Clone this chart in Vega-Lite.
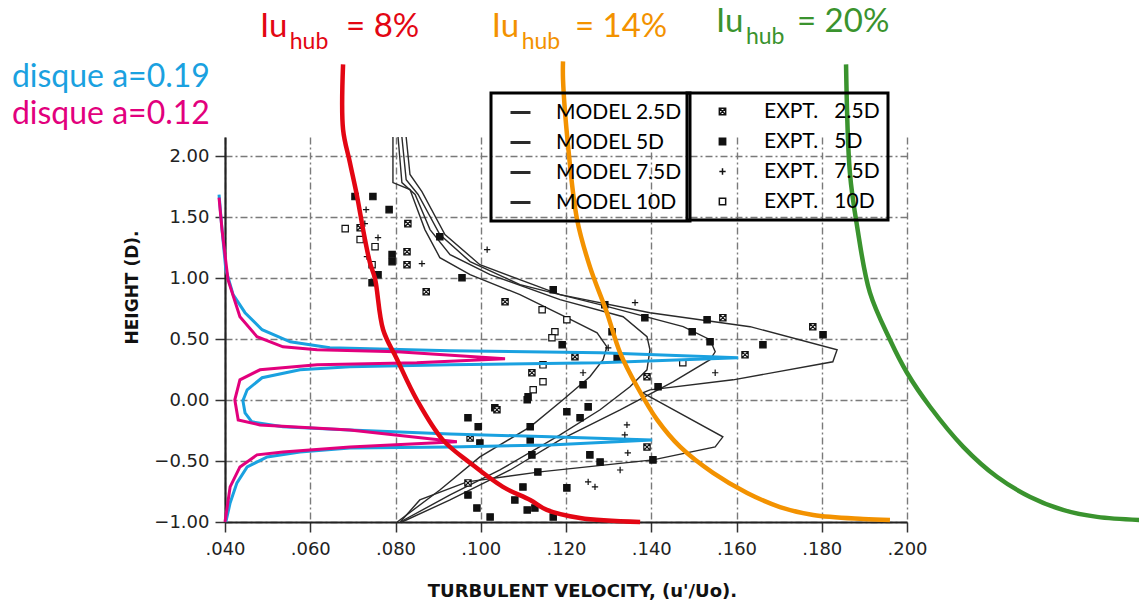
{
  "$schema": "https://vega.github.io/schema/vega-lite/v6.json",
  "autosize": {"type": "none"},
  "width": 682,
  "height": 385,
  "padding": {"left": 225, "top": 137, "right": 232, "bottom": 84},
  "background": "white",
  "config": {
    "view": {"stroke": null},
    "legend": {"strokeWidth": 3},
    "axis": {
      "grid": true,
      "gridColor": "#7a7a7a",
      "gridDash": [7, 3, 2, 3],
      "gridWidth": 1.4,
      "domainColor": "#222",
      "domainWidth": 2.2,
      "tickColor": "#333",
      "tickWidth": 1.5,
      "tickSize": 10,
      "labelFont": "DejaVu Sans",
      "labelFontSize": 18,
      "labelColor": "#222",
      "labelFlush": false,
      "titleFont": "DejaVu Sans",
      "titleFontWeight": "bold",
      "titleFontSize": 17,
      "titleColor": "#111"
    }
  },
  "datasets": {
    "models": [
      {"m": "MODEL 10D", "i": 0, "u": 0.0794, "h": 2.16},
      {"m": "MODEL 10D", "i": 1, "u": 0.0794, "h": 1.786},
      {"m": "MODEL 10D", "i": 2, "u": 0.0834, "h": 1.729},
      {"m": "MODEL 10D", "i": 3, "u": 0.0869, "h": 1.4},
      {"m": "MODEL 10D", "i": 4, "u": 0.0904, "h": 1.17},
      {"m": "MODEL 10D", "i": 5, "u": 0.0975, "h": 1.03},
      {"m": "MODEL 10D", "i": 6, "u": 0.1092, "h": 0.866},
      {"m": "MODEL 10D", "i": 7, "u": 0.1202, "h": 0.677},
      {"m": "MODEL 10D", "i": 8, "u": 0.1273, "h": 0.553},
      {"m": "MODEL 10D", "i": 9, "u": 0.1296, "h": 0.438},
      {"m": "MODEL 10D", "i": 10, "u": 0.1287, "h": 0.332},
      {"m": "MODEL 10D", "i": 11, "u": 0.1256, "h": 0.192},
      {"m": "MODEL 10D", "i": 12, "u": 0.1193, "h": 0.003},
      {"m": "MODEL 10D", "i": 13, "u": 0.1116, "h": -0.219},
      {"m": "MODEL 10D", "i": 14, "u": 0.0998, "h": -0.466},
      {"m": "MODEL 10D", "i": 15, "u": 0.0904, "h": -0.737},
      {"m": "MODEL 10D", "i": 16, "u": 0.0804, "h": -1.0},
      {"m": "MODEL 7.5D", "i": 0, "u": 0.0806, "h": 2.16},
      {"m": "MODEL 7.5D", "i": 1, "u": 0.0815, "h": 1.786},
      {"m": "MODEL 7.5D", "i": 2, "u": 0.0846, "h": 1.688},
      {"m": "MODEL 7.5D", "i": 3, "u": 0.0881, "h": 1.4},
      {"m": "MODEL 7.5D", "i": 4, "u": 0.0928, "h": 1.195},
      {"m": "MODEL 7.5D", "i": 5, "u": 0.1022, "h": 1.03},
      {"m": "MODEL 7.5D", "i": 6, "u": 0.1186, "h": 0.825},
      {"m": "MODEL 7.5D", "i": 7, "u": 0.1334, "h": 0.685},
      {"m": "MODEL 7.5D", "i": 8, "u": 0.139, "h": 0.521},
      {"m": "MODEL 7.5D", "i": 9, "u": 0.1397, "h": 0.414},
      {"m": "MODEL 7.5D", "i": 10, "u": 0.139, "h": 0.249},
      {"m": "MODEL 7.5D", "i": 11, "u": 0.135, "h": 0.11},
      {"m": "MODEL 7.5D", "i": 12, "u": 0.128, "h": -0.079},
      {"m": "MODEL 7.5D", "i": 13, "u": 0.1186, "h": -0.285},
      {"m": "MODEL 7.5D", "i": 14, "u": 0.1045, "h": -0.573},
      {"m": "MODEL 7.5D", "i": 15, "u": 0.0928, "h": -0.778},
      {"m": "MODEL 7.5D", "i": 16, "u": 0.0811, "h": -1.0},
      {"m": "MODEL 5D", "i": 0, "u": 0.0815, "h": 2.16},
      {"m": "MODEL 5D", "i": 1, "u": 0.0825, "h": 1.81},
      {"m": "MODEL 5D", "i": 2, "u": 0.0853, "h": 1.688},
      {"m": "MODEL 5D", "i": 3, "u": 0.0904, "h": 1.359},
      {"m": "MODEL 5D", "i": 4, "u": 0.0975, "h": 1.137},
      {"m": "MODEL 5D", "i": 5, "u": 0.1092, "h": 0.948},
      {"m": "MODEL 5D", "i": 6, "u": 0.128, "h": 0.784},
      {"m": "MODEL 5D", "i": 7, "u": 0.1475, "h": 0.603},
      {"m": "MODEL 5D", "i": 8, "u": 0.1538, "h": 0.496},
      {"m": "MODEL 5D", "i": 9, "u": 0.155, "h": 0.397},
      {"m": "MODEL 5D", "i": 10, "u": 0.1538, "h": 0.332},
      {"m": "MODEL 5D", "i": 11, "u": 0.1451, "h": 0.151},
      {"m": "MODEL 5D", "i": 12, "u": 0.1327, "h": -0.079},
      {"m": "MODEL 5D", "i": 13, "u": 0.1186, "h": -0.326},
      {"m": "MODEL 5D", "i": 14, "u": 0.1069, "h": -0.573},
      {"m": "MODEL 5D", "i": 15, "u": 0.0928, "h": -0.819},
      {"m": "MODEL 5D", "i": 16, "u": 0.0815, "h": -1.0},
      {"m": "MODEL 2.5D", "i": 0, "u": 0.0825, "h": 2.16},
      {"m": "MODEL 2.5D", "i": 1, "u": 0.0834, "h": 1.852},
      {"m": "MODEL 2.5D", "i": 2, "u": 0.0862, "h": 1.712},
      {"m": "MODEL 2.5D", "i": 3, "u": 0.0916, "h": 1.359},
      {"m": "MODEL 2.5D", "i": 4, "u": 0.0998, "h": 1.112},
      {"m": "MODEL 2.5D", "i": 5, "u": 0.1186, "h": 0.866},
      {"m": "MODEL 2.5D", "i": 6, "u": 0.1397, "h": 0.718},
      {"m": "MODEL 2.5D", "i": 7, "u": 0.1632, "h": 0.603},
      {"m": "MODEL 2.5D", "i": 8, "u": 0.1836, "h": 0.414},
      {"m": "MODEL 2.5D", "i": 9, "u": 0.1826, "h": 0.315},
      {"m": "MODEL 2.5D", "i": 10, "u": 0.1592, "h": 0.167},
      {"m": "MODEL 2.5D", "i": 11, "u": 0.1397, "h": 0.085},
      {"m": "MODEL 2.5D", "i": 12, "u": 0.138, "h": 0.06},
      {"m": "MODEL 2.5D", "i": 13, "u": 0.1568, "h": -0.301},
      {"m": "MODEL 2.5D", "i": 14, "u": 0.155, "h": -0.384},
      {"m": "MODEL 2.5D", "i": 15, "u": 0.1404, "h": -0.49},
      {"m": "MODEL 2.5D", "i": 16, "u": 0.1139, "h": -0.589},
      {"m": "MODEL 2.5D", "i": 17, "u": 0.0968, "h": -0.671},
      {"m": "MODEL 2.5D", "i": 18, "u": 0.0857, "h": -0.819},
      {"m": "MODEL 2.5D", "i": 19, "u": 0.0811, "h": -1.0}
    ],
    "expt": [
      {"e": "EXPT.\u00a0\u00a0\u00a05D", "u": 0.0705, "h": 1.671},
      {"e": "EXPT.\u00a0\u00a0\u00a05D", "u": 0.0747, "h": 1.671},
      {"e": "EXPT.\u00a0\u00a0\u00a07.5D", "u": 0.0731, "h": 1.564},
      {"e": "EXPT.\u00a0\u00a0\u00a05D", "u": 0.0785, "h": 1.564},
      {"e": "EXPT.\u00a0\u00a0\u00a02.5D", "u": 0.0829, "h": 1.449},
      {"e": "EXPT.\u00a0\u00a0\u00a07.5D", "u": 0.0728, "h": 1.449},
      {"e": "EXPT.\u00a0\u00a0\u00a010D", "u": 0.0682, "h": 1.408},
      {"e": "EXPT.\u00a0\u00a0\u00a02.5D", "u": 0.0717, "h": 1.416},
      {"e": "EXPT.\u00a0\u00a0\u00a010D", "u": 0.0717, "h": 1.318},
      {"e": "EXPT.\u00a0\u00a0\u00a07.5D", "u": 0.0759, "h": 1.334},
      {"e": "EXPT.\u00a0\u00a0\u00a010D", "u": 0.0752, "h": 1.26},
      {"e": "EXPT.\u00a0\u00a0\u00a02.5D", "u": 0.0827, "h": 1.219},
      {"e": "EXPT.\u00a0\u00a0\u00a05D", "u": 0.0792, "h": 1.195},
      {"e": "EXPT.\u00a0\u00a0\u00a05D", "u": 0.0792, "h": 1.137},
      {"e": "EXPT.\u00a0\u00a0\u00a02.5D", "u": 0.0827, "h": 1.112},
      {"e": "EXPT.\u00a0\u00a0\u00a07.5D", "u": 0.0862, "h": 1.121},
      {"e": "EXPT.\u00a0\u00a0\u00a07.5D", "u": 0.0733, "h": 1.178},
      {"e": "EXPT.\u00a0\u00a0\u00a010D", "u": 0.0745, "h": 1.112},
      {"e": "EXPT.\u00a0\u00a0\u00a05D", "u": 0.0759, "h": 1.03},
      {"e": "EXPT.\u00a0\u00a0\u00a05D", "u": 0.0745, "h": 0.964},
      {"e": "EXPT.\u00a0\u00a0\u00a07.5D", "u": 0.1015, "h": 1.236},
      {"e": "EXPT.\u00a0\u00a0\u00a02.5D", "u": 0.0872, "h": 0.89},
      {"e": "EXPT.\u00a0\u00a0\u00a02.5D", "u": 0.1057, "h": 0.808},
      {"e": "EXPT.\u00a0\u00a0\u00a05D", "u": 0.0956, "h": 1.005},
      {"e": "EXPT.\u00a0\u00a0\u00a05D", "u": 0.0904, "h": 1.342},
      {"e": "EXPT.\u00a0\u00a0\u00a010D", "u": 0.1144, "h": 0.742},
      {"e": "EXPT.\u00a0\u00a0\u00a05D", "u": 0.117, "h": 0.907},
      {"e": "EXPT.\u00a0\u00a0\u00a05D", "u": 0.1291, "h": 0.784},
      {"e": "EXPT.\u00a0\u00a0\u00a07.5D", "u": 0.1362, "h": 0.8},
      {"e": "EXPT.\u00a0\u00a0\u00a05D", "u": 0.1385, "h": 0.677},
      {"e": "EXPT.\u00a0\u00a0\u00a010D", "u": 0.1202, "h": 0.66},
      {"e": "EXPT.\u00a0\u00a0\u00a010D", "u": 0.1174, "h": 0.562},
      {"e": "EXPT.\u00a0\u00a0\u00a010D", "u": 0.1167, "h": 0.512},
      {"e": "EXPT.\u00a0\u00a0\u00a05D", "u": 0.1191, "h": 0.455},
      {"e": "EXPT.\u00a0\u00a0\u00a05D", "u": 0.1308, "h": 0.562},
      {"e": "EXPT.\u00a0\u00a0\u00a07.5D", "u": 0.1299, "h": 0.43},
      {"e": "EXPT.\u00a0\u00a0\u00a02.5D", "u": 0.1221, "h": 0.356},
      {"e": "EXPT.\u00a0\u00a0\u00a05D", "u": 0.132, "h": 0.348},
      {"e": "EXPT.\u00a0\u00a0\u00a010D", "u": 0.1146, "h": 0.29},
      {"e": "EXPT.\u00a0\u00a0\u00a02.5D", "u": 0.112, "h": 0.225},
      {"e": "EXPT.\u00a0\u00a0\u00a010D", "u": 0.1146, "h": 0.151},
      {"e": "EXPT.\u00a0\u00a0\u00a010D", "u": 0.1123, "h": 0.085},
      {"e": "EXPT.\u00a0\u00a0\u00a05D", "u": 0.1111, "h": 0.027},
      {"e": "EXPT.\u00a0\u00a0\u00a07.5D", "u": 0.124, "h": 0.225},
      {"e": "EXPT.\u00a0\u00a0\u00a05D", "u": 0.124, "h": 0.126},
      {"e": "EXPT.\u00a0\u00a0\u00a02.5D", "u": 0.139, "h": 0.192},
      {"e": "EXPT.\u00a0\u00a0\u00a05D", "u": 0.1416, "h": 0.11},
      {"e": "EXPT.\u00a0\u00a0\u00a05D", "u": 0.1531, "h": 0.66},
      {"e": "EXPT.\u00a0\u00a0\u00a02.5D", "u": 0.1568, "h": 0.677},
      {"e": "EXPT.\u00a0\u00a0\u00a05D", "u": 0.1496, "h": 0.562},
      {"e": "EXPT.\u00a0\u00a0\u00a05D", "u": 0.1538, "h": 0.479},
      {"e": "EXPT.\u00a0\u00a0\u00a05D", "u": 0.1662, "h": 0.455},
      {"e": "EXPT.\u00a0\u00a0\u00a02.5D", "u": 0.162, "h": 0.373},
      {"e": "EXPT.\u00a0\u00a0\u00a02.5D", "u": 0.1779, "h": 0.603},
      {"e": "EXPT.\u00a0\u00a0\u00a05D", "u": 0.1803, "h": 0.537},
      {"e": "EXPT.\u00a0\u00a0\u00a07.5D", "u": 0.155, "h": 0.225},
      {"e": "EXPT.\u00a0\u00a0\u00a010D", "u": 0.1474, "h": 0.307},
      {"e": "EXPT.\u00a0\u00a0\u00a05D", "u": 0.1109, "h": 0.003},
      {"e": "EXPT.\u00a0\u00a0\u00a05D", "u": 0.1033, "h": -0.063},
      {"e": "EXPT.\u00a0\u00a0\u00a05D", "u": 0.097, "h": -0.145},
      {"e": "EXPT.\u00a0\u00a0\u00a05D", "u": 0.0994, "h": -0.219},
      {"e": "EXPT.\u00a0\u00a0\u00a02.5D", "u": 0.0975, "h": -0.31},
      {"e": "EXPT.\u00a0\u00a0\u00a05D", "u": 0.0998, "h": -0.351},
      {"e": "EXPT.\u00a0\u00a0\u00a05D", "u": 0.1116, "h": -0.219},
      {"e": "EXPT.\u00a0\u00a0\u00a05D", "u": 0.1116, "h": -0.326},
      {"e": "EXPT.\u00a0\u00a0\u00a05D", "u": 0.112, "h": -0.449},
      {"e": "EXPT.\u00a0\u00a0\u00a05D", "u": 0.1202, "h": -0.096},
      {"e": "EXPT.\u00a0\u00a0\u00a05D", "u": 0.1233, "h": -0.145},
      {"e": "EXPT.\u00a0\u00a0\u00a05D", "u": 0.1252, "h": -0.055},
      {"e": "EXPT.\u00a0\u00a0\u00a07.5D", "u": 0.1343, "h": -0.203},
      {"e": "EXPT.\u00a0\u00a0\u00a07.5D", "u": 0.1338, "h": -0.285},
      {"e": "EXPT.\u00a0\u00a0\u00a05D", "u": 0.1256, "h": -0.449},
      {"e": "EXPT.\u00a0\u00a0\u00a05D", "u": 0.128, "h": -0.507},
      {"e": "EXPT.\u00a0\u00a0\u00a07.5D", "u": 0.1345, "h": -0.433},
      {"e": "EXPT.\u00a0\u00a0\u00a07.5D", "u": 0.1327, "h": -0.573},
      {"e": "EXPT.\u00a0\u00a0\u00a05D", "u": 0.1404, "h": -0.49},
      {"e": "EXPT.\u00a0\u00a0\u00a02.5D", "u": 0.139, "h": -0.384},
      {"e": "EXPT.\u00a0\u00a0\u00a05D", "u": 0.1134, "h": -0.589},
      {"e": "EXPT.\u00a0\u00a0\u00a07.5D", "u": 0.1252, "h": -0.671},
      {"e": "EXPT.\u00a0\u00a0\u00a07.5D", "u": 0.1268, "h": -0.712},
      {"e": "EXPT.\u00a0\u00a0\u00a05D", "u": 0.1202, "h": -0.72},
      {"e": "EXPT.\u00a0\u00a0\u00a05D", "u": 0.1099, "h": -0.712},
      {"e": "EXPT.\u00a0\u00a0\u00a05D", "u": 0.108, "h": -0.819},
      {"e": "EXPT.\u00a0\u00a0\u00a05D", "u": 0.097, "h": -0.778},
      {"e": "EXPT.\u00a0\u00a0\u00a05D", "u": 0.0991, "h": -0.885},
      {"e": "EXPT.\u00a0\u00a0\u00a05D", "u": 0.1109, "h": -0.901},
      {"e": "EXPT.\u00a0\u00a0\u00a05D", "u": 0.1127, "h": -0.885},
      {"e": "EXPT.\u00a0\u00a0\u00a05D", "u": 0.1022, "h": -0.959},
      {"e": "EXPT.\u00a0\u00a0\u00a05D", "u": 0.117, "h": -0.959},
      {"e": "EXPT.\u00a0\u00a0\u00a02.5D", "u": 0.097, "h": -0.679},
      {"e": "EXPT.\u00a0\u00a0\u00a02.5D", "u": 0.1038, "h": -0.079}
    ],
    "iu": [
      {"c": "8%", "i": 0, "u": 0.0677, "h": 2.756},
      {"c": "8%", "i": 1, "u": 0.0677, "h": 2.222},
      {"c": "8%", "i": 2, "u": 0.0693, "h": 1.951},
      {"c": "8%", "i": 3, "u": 0.071, "h": 1.671},
      {"c": "8%", "i": 4, "u": 0.0724, "h": 1.4},
      {"c": "8%", "i": 5, "u": 0.074, "h": 1.129},
      {"c": "8%", "i": 6, "u": 0.0752, "h": 0.997},
      {"c": "8%", "i": 7, "u": 0.0771, "h": 0.578},
      {"c": "8%", "i": 8, "u": 0.0804, "h": 0.332},
      {"c": "8%", "i": 9, "u": 0.085, "h": 0.003},
      {"c": "8%", "i": 10, "u": 0.0911, "h": -0.326},
      {"c": "8%", "i": 11, "u": 0.0975, "h": -0.515},
      {"c": "8%", "i": 12, "u": 0.1052, "h": -0.712},
      {"c": "8%", "i": 13, "u": 0.1116, "h": -0.819},
      {"c": "8%", "i": 14, "u": 0.1155, "h": -0.901},
      {"c": "8%", "i": 15, "u": 0.1233, "h": -0.967},
      {"c": "8%", "i": 16, "u": 0.1374, "h": -1.0},
      {"c": "14%", "i": 0, "u": 0.1193, "h": 2.781},
      {"c": "14%", "i": 1, "u": 0.1193, "h": 2.633},
      {"c": "14%", "i": 2, "u": 0.1205, "h": 2.082},
      {"c": "14%", "i": 3, "u": 0.1226, "h": 1.482},
      {"c": "14%", "i": 4, "u": 0.1256, "h": 1.096},
      {"c": "14%", "i": 5, "u": 0.1296, "h": 0.718},
      {"c": "14%", "i": 6, "u": 0.1327, "h": 0.389},
      {"c": "14%", "i": 7, "u": 0.1367, "h": 0.11},
      {"c": "14%", "i": 8, "u": 0.1414, "h": -0.162},
      {"c": "14%", "i": 9, "u": 0.1468, "h": -0.384},
      {"c": "14%", "i": 10, "u": 0.1545, "h": -0.597},
      {"c": "14%", "i": 11, "u": 0.1625, "h": -0.762},
      {"c": "14%", "i": 12, "u": 0.1702, "h": -0.877},
      {"c": "14%", "i": 13, "u": 0.178, "h": -0.942},
      {"c": "14%", "i": 14, "u": 0.1897, "h": -0.975},
      {"c": "14%", "i": 15, "u": 0.196, "h": -0.984},
      {"c": "20%", "i": 0, "u": 0.1857, "h": 2.756},
      {"c": "20%", "i": 1, "u": 0.1866, "h": 1.868},
      {"c": "20%", "i": 2, "u": 0.1883, "h": 1.425},
      {"c": "20%", "i": 3, "u": 0.1913, "h": 0.882},
      {"c": "20%", "i": 4, "u": 0.196, "h": 0.496},
      {"c": "20%", "i": 5, "u": 0.2, "h": 0.225},
      {"c": "20%", "i": 6, "u": 0.2054, "h": -0.054},
      {"c": "20%", "i": 7, "u": 0.2132, "h": -0.383},
      {"c": "20%", "i": 8, "u": 0.2211, "h": -0.629},
      {"c": "20%", "i": 9, "u": 0.2289, "h": -0.794},
      {"c": "20%", "i": 10, "u": 0.2366, "h": -0.901},
      {"c": "20%", "i": 11, "u": 0.2446, "h": -0.958},
      {"c": "20%", "i": 12, "u": 0.2545, "h": -0.983}
    ],
    "disk": [
      {"c": "a=0.19", "i": 0, "u": 0.0386, "h": 1.688},
      {"c": "a=0.19", "i": 1, "u": 0.0393, "h": 1.4},
      {"c": "a=0.19", "i": 2, "u": 0.0402, "h": 1.071},
      {"c": "a=0.19", "i": 3, "u": 0.0419, "h": 0.866},
      {"c": "a=0.19", "i": 4, "u": 0.0447, "h": 0.718},
      {"c": "a=0.19", "i": 5, "u": 0.0487, "h": 0.578},
      {"c": "a=0.19", "i": 6, "u": 0.0553, "h": 0.479},
      {"c": "a=0.19", "i": 7, "u": 0.0646, "h": 0.43},
      {"c": "a=0.19", "i": 8, "u": 0.0928, "h": 0.406},
      {"c": "a=0.19", "i": 9, "u": 0.128, "h": 0.389},
      {"c": "a=0.19", "i": 10, "u": 0.1604, "h": 0.348},
      {"c": "a=0.19", "i": 11, "u": 0.128, "h": 0.307},
      {"c": "a=0.19", "i": 12, "u": 0.0928, "h": 0.29},
      {"c": "a=0.19", "i": 13, "u": 0.0693, "h": 0.274},
      {"c": "a=0.19", "i": 14, "u": 0.0576, "h": 0.249},
      {"c": "a=0.19", "i": 15, "u": 0.0487, "h": 0.184},
      {"c": "a=0.19", "i": 16, "u": 0.0452, "h": 0.085},
      {"c": "a=0.19", "i": 17, "u": 0.0442, "h": -0.005},
      {"c": "a=0.19", "i": 18, "u": 0.0447, "h": -0.104},
      {"c": "a=0.19", "i": 19, "u": 0.0463, "h": -0.178},
      {"c": "a=0.19", "i": 20, "u": 0.0536, "h": -0.219},
      {"c": "a=0.19", "i": 21, "u": 0.0693, "h": -0.244},
      {"c": "a=0.19", "i": 22, "u": 0.0928, "h": -0.277},
      {"c": "a=0.19", "i": 23, "u": 0.1162, "h": -0.301},
      {"c": "a=0.19", "i": 24, "u": 0.1402, "h": -0.326},
      {"c": "a=0.19", "i": 25, "u": 0.1162, "h": -0.367},
      {"c": "a=0.19", "i": 26, "u": 0.0928, "h": -0.384},
      {"c": "a=0.19", "i": 27, "u": 0.0693, "h": -0.392},
      {"c": "a=0.19", "i": 28, "u": 0.0576, "h": -0.425},
      {"c": "a=0.19", "i": 29, "u": 0.0499, "h": -0.466},
      {"c": "a=0.19", "i": 30, "u": 0.0452, "h": -0.548},
      {"c": "a=0.19", "i": 31, "u": 0.0428, "h": -0.679},
      {"c": "a=0.19", "i": 32, "u": 0.0412, "h": -0.844},
      {"c": "a=0.19", "i": 33, "u": 0.0402, "h": -1.0},
      {"c": "a=0.12", "i": 0, "u": 0.0386, "h": 1.663},
      {"c": "a=0.12", "i": 1, "u": 0.0393, "h": 1.4},
      {"c": "a=0.12", "i": 2, "u": 0.0407, "h": 0.989},
      {"c": "a=0.12", "i": 3, "u": 0.0435, "h": 0.685},
      {"c": "a=0.12", "i": 4, "u": 0.0475, "h": 0.521},
      {"c": "a=0.12", "i": 5, "u": 0.0536, "h": 0.438},
      {"c": "a=0.12", "i": 6, "u": 0.0616, "h": 0.414},
      {"c": "a=0.12", "i": 7, "u": 0.0804, "h": 0.397},
      {"c": "a=0.12", "i": 8, "u": 0.1057, "h": 0.34},
      {"c": "a=0.12", "i": 9, "u": 0.085, "h": 0.307},
      {"c": "a=0.12", "i": 10, "u": 0.0616, "h": 0.29},
      {"c": "a=0.12", "i": 11, "u": 0.0482, "h": 0.249},
      {"c": "a=0.12", "i": 12, "u": 0.0435, "h": 0.167},
      {"c": "a=0.12", "i": 13, "u": 0.0423, "h": 0.003},
      {"c": "a=0.12", "i": 14, "u": 0.0431, "h": -0.162},
      {"c": "a=0.12", "i": 15, "u": 0.0482, "h": -0.203},
      {"c": "a=0.12", "i": 16, "u": 0.0693, "h": -0.244},
      {"c": "a=0.12", "i": 17, "u": 0.0944, "h": -0.342},
      {"c": "a=0.12", "i": 18, "u": 0.0693, "h": -0.384},
      {"c": "a=0.12", "i": 19, "u": 0.0536, "h": -0.425},
      {"c": "a=0.12", "i": 20, "u": 0.0475, "h": -0.449},
      {"c": "a=0.12", "i": 21, "u": 0.0435, "h": -0.548},
      {"c": "a=0.12", "i": 22, "u": 0.0412, "h": -0.712},
      {"c": "a=0.12", "i": 23, "u": 0.04, "h": -1.0}
    ],
    "labels": [
      {"k": "note", "t": "disque a=0.19", "c": "a=0.19", "u": -0.01, "h": 2.567},
      {"k": "note", "t": "disque a=0.12", "c": "a=0.12", "u": -0.01, "h": 2.27},
      {"k": "main", "t": "Iu", "c": "8%", "u": 0.0482, "h": 2.978},
      {"k": "main", "t": "= 8%", "c": "8%", "u": 0.0684, "h": 2.978},
      {"k": "main", "t": "Iu", "c": "14%", "u": 0.1026, "h": 2.978},
      {"k": "main", "t": "= 14%", "c": "14%", "u": 0.1221, "h": 2.978},
      {"k": "main", "t": "Iu", "c": "20%", "u": 0.1552, "h": 3.019},
      {"k": "main", "t": "= 20%", "c": "20%", "u": 0.1742, "h": 3.019},
      {"k": "sub", "t": "hub", "c": "8%", "u": 0.0552, "h": 2.885},
      {"k": "sub", "t": "hub", "c": "14%", "u": 0.1096, "h": 2.885},
      {"k": "sub", "t": "hub", "c": "20%", "u": 0.1622, "h": 2.926}
    ]
  },
  "encoding": {
    "x": {
      "field": "u",
      "type": "quantitative",
      "scale": {"domain": [0.04, 0.2], "nice": false, "zero": false},
      "axis": {
        "values": [0.04, 0.06, 0.08, 0.1, 0.12, 0.14, 0.16, 0.18, 0.2],
        "labelExpr": "substring(format(datum.value, '.3f'), 1)",
        "labelPadding": 8,
        "title": "TURBULENT VELOCITY, (u'/Uo).",
        "titleX": 357,
        "titleY": 74,
        "titleBaseline": "alphabetic",
        "titleFontSize": 18
      }
    },
    "y": {
      "field": "h",
      "type": "quantitative",
      "scale": {"domain": [-1, 2.16], "nice": false, "zero": false},
      "axis": {
        "values": [-1, -0.5, 0, 0.5, 1, 1.5, 2],
        "format": ".2f",
        "labelPadding": 6,
        "title": "HEIGHT (D).",
        "titleX": -93,
        "titleY": 150,
        "titleAlign": "center",
        "titleBaseline": "middle",
        "titleAngle": 270
      }
    }
  },
  "layer": [
    {
      "data": {"name": "models"},
      "mark": {"type": "line", "strokeWidth": 1.4, "clip": false},
      "encoding": {
        "order": {"field": "i", "type": "quantitative"},
        "color": {
          "field": "m",
          "type": "nominal",
          "scale": {
            "domain": ["MODEL 2.5D", "MODEL 5D", "MODEL 7.5D", "MODEL 10D", "8%", "14%", "20%", "a=0.19", "a=0.12"],
            "range": ["#2a2a2a", "#2a2a2a", "#2a2a2a", "#2a2a2a", "#e30613", "#f39200", "#3a932e", "#1aa1e0", "#e2007d"]
          },
          "legend": {
            "values": ["MODEL 2.5D", "MODEL 5D", "MODEL 7.5D", "MODEL 10D"],
            "title": null,
            "orient": "none",
            "legendX": 266,
            "legendY": -44,
            "padding": 8,
            "rowPadding": 8,
            "symbolOffset": 10,
            "labelOffset": 24,
            "symbolType": "stroke",
            "symbolSize": 400,
            "labelFont": "Lato",
            "labelFontSize": 21,
            "labelColor": "#000",
            "strokeColor": "#000",
            "fillColor": null,
            "encode": {"symbols": {"update": {"strokeWidth": {"value": 3}, "stroke": {"value": "#000"}}}}
          }
        }
      }
    },
    {
      "data": {"name": "expt"},
      "mark": {"type": "point", "filled": true, "stroke": "#111", "strokeWidth": 1.2, "size": 40, "opacity": 1, "clip": false},
      "encoding": {
        "shape": {
          "field": "e",
          "type": "nominal",
          "scale": {
            "domain": ["EXPT.\u00a0\u00a0\u00a02.5D", "EXPT.\u00a0\u00a0\u00a05D", "EXPT.\u00a0\u00a0\u00a07.5D", "EXPT.\u00a0\u00a0\u00a010D"],
            "range": ["M-1,-1L1,-1L1,1L-1,1ZM-1,-1L1,1M1,-1L-1,1", "square", "M-1,0L1,0M0,-1L0,1", "square"]
          },
          "legend": {
            "title": null,
            "orient": "none",
            "legendX": 462,
            "legendY": -44,
            "padding": 8,
            "rowPadding": 8,
            "symbolOffset": 17,
            "labelOffset": 31,
            "symbolSize": 40,
            "labelFont": "Lato",
            "labelFontSize": 21,
            "labelColor": "#000",
            "strokeColor": "#000"
          }
        },
        "fill": {
          "field": "e",
          "type": "nominal",
          "scale": {
            "domain": ["EXPT.\u00a0\u00a0\u00a02.5D", "EXPT.\u00a0\u00a0\u00a05D", "EXPT.\u00a0\u00a0\u00a07.5D", "EXPT.\u00a0\u00a0\u00a010D"],
            "range": ["white", "#111", "#111", "white"]
          },
          "legend": {
            "title": null,
            "orient": "none",
            "legendX": 462,
            "legendY": -44,
            "padding": 8,
            "rowPadding": 8,
            "symbolOffset": 17,
            "labelOffset": 31,
            "symbolSize": 40,
            "labelFont": "Lato",
            "labelFontSize": 21,
            "labelColor": "#000",
            "strokeColor": "#000"
          }
        }
      }
    },
    {
      "data": {"name": "disk"},
      "mark": {"type": "line", "strokeWidth": 3, "clip": false},
      "encoding": {
        "order": {"field": "i", "type": "quantitative"},
        "color": {"field": "c", "type": "nominal", "legend": null}
      }
    },
    {
      "data": {"name": "iu"},
      "mark": {"type": "line", "strokeWidth": 4.5, "interpolate": "catmull-rom", "clip": false},
      "encoding": {
        "order": {"field": "i", "type": "quantitative"},
        "color": {"field": "c", "type": "nominal", "legend": null}
      }
    },
    {
      "data": {"name": "labels"},
      "transform": [{"filter": "datum.k === 'main'"}],
      "mark": {"type": "text", "font": "Lato", "fontSize": 33, "align": "left", "baseline": "alphabetic", "clip": false},
      "encoding": {
        "text": {"field": "t"},
        "color": {"field": "c", "type": "nominal", "legend": null}
      }
    },
    {
      "data": {"name": "labels"},
      "transform": [{"filter": "datum.k === 'sub'"}],
      "mark": {"type": "text", "font": "Lato", "fontSize": 23, "align": "left", "baseline": "alphabetic", "clip": false},
      "encoding": {
        "text": {"field": "t"},
        "color": {"field": "c", "type": "nominal", "legend": null}
      }
    },
    {
      "data": {"name": "labels"},
      "transform": [{"filter": "datum.k === 'note'"}],
      "mark": {"type": "text", "font": "Lato", "fontSize": 32, "align": "left", "baseline": "alphabetic", "clip": false},
      "encoding": {
        "text": {"field": "t"},
        "color": {"field": "c", "type": "nominal", "legend": null}
      }
    }
  ]
}
